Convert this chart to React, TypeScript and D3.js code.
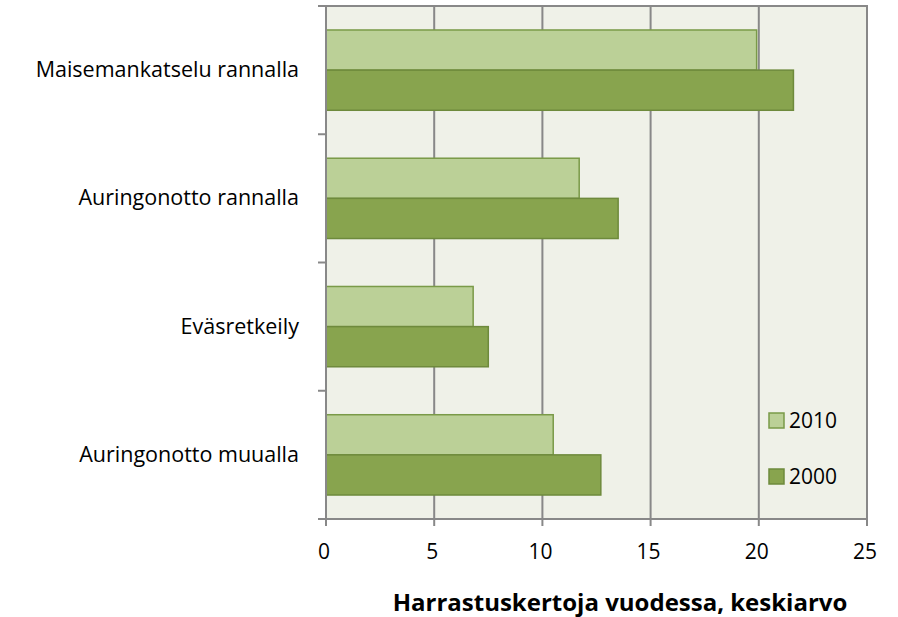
import React from "react";
import * as d3 from "d3";

const categories = ["Maisemankatselu rannalla", "Auringonotto rannalla", "Eväsretkeily", "Auringonotto muualla"];
const series2010 = [19.9, 11.7, 6.8, 10.5];
const series2000 = [21.6, 13.5, 7.5, 12.7];
const seriesNames = ["2010", "2000"];
const xTicks = [0, 5, 10, 15, 20, 25];
const axisTitle = "Harrastuskertoja vuodessa, keskiarvo";

const W = 898, H = 617;
const left = 326, right = 867, top = 6, bottom = 519;
const font = "'Open Sans', sans-serif";
const colors = ["#BBD097", "#88A44E"];
const strokes = ["#7A9A48", "#6E8A3C"];

export default function App() {
  const x = d3.scaleLinear().domain([0, 25]).range([left, right]);
  const y = d3.scaleBand().domain(categories).range([top, bottom]).paddingInner(0.374).paddingOuter(0.187);
  const inner = d3.scaleBand().domain(seriesNames).range([0, y.bandwidth()]);
  const data = [series2010, series2000];
  const bandStep = (bottom - top) / categories.length;
  return (
    <svg width={W} height={H} style={{ position: "absolute", left: 0, top: 0, background: "#fff" }}>
      <rect x={left} y={top} width={right - left} height={bottom - top} fill="#EFF1E8" stroke="#888" strokeWidth={2} />
      {xTicks.slice(1, -1).map(t => (
        <line key={t} x1={x(t)} x2={x(t)} y1={top} y2={bottom} stroke="#888" strokeWidth={2} />
      ))}
      {categories.map((c, i) =>
        data.map((s, j) => (
          <rect key={c + j} x={x(0)} y={(y(c) as number) + (inner(seriesNames[j]) as number)}
            width={x(s[i]) - x(0)} height={inner.bandwidth()} fill={colors[j]} stroke={strokes[j]} strokeWidth={1.5} />
        ))
      )}
      <line x1={left} x2={left} y1={top} y2={bottom + 7} stroke="#888" strokeWidth={2} />
      <line x1={left - 8} x2={right} y1={bottom} y2={bottom} stroke="#888" strokeWidth={2} />
      {d3.range(categories.length + 1).map(i => (
        <line key={i} x1={left - 8} x2={left} y1={top + i * bandStep} y2={top + i * bandStep} stroke="#888" strokeWidth={2} />
      ))}
      {xTicks.map(t => (
        <g key={t}>
          <line x1={x(t)} x2={x(t)} y1={bottom} y2={bottom + 7} stroke="#888" strokeWidth={2} />
          <text x={x(t) - 2} y={559} textAnchor="middle" fontFamily={font} fontSize={21} fill="#000">{t}</text>
        </g>
      ))}
      {categories.map(c => (
        <text key={c} x={299} y={(y(c) as number) + y.bandwidth() / 2 + 7} textAnchor="end" fontFamily={font} fontSize={21.5} fill="#000">{c}</text>
      ))}
      {seriesNames.map((n, j) => (
        <g key={n}>
          <rect x={769} y={413 + j * 56} width={15} height={15} fill={colors[j]} stroke={strokes[j]} strokeWidth={1.5} />
          <text x={789} y={428 + j * 56} fontFamily={font} fontSize={21} fill="#000">{n}</text>
        </g>
      ))}
      <text x={620} y={611} textAnchor="middle" fontFamily={font} fontSize={24} fontWeight="bold" fill="#000">{axisTitle}</text>
    </svg>
  );
}
